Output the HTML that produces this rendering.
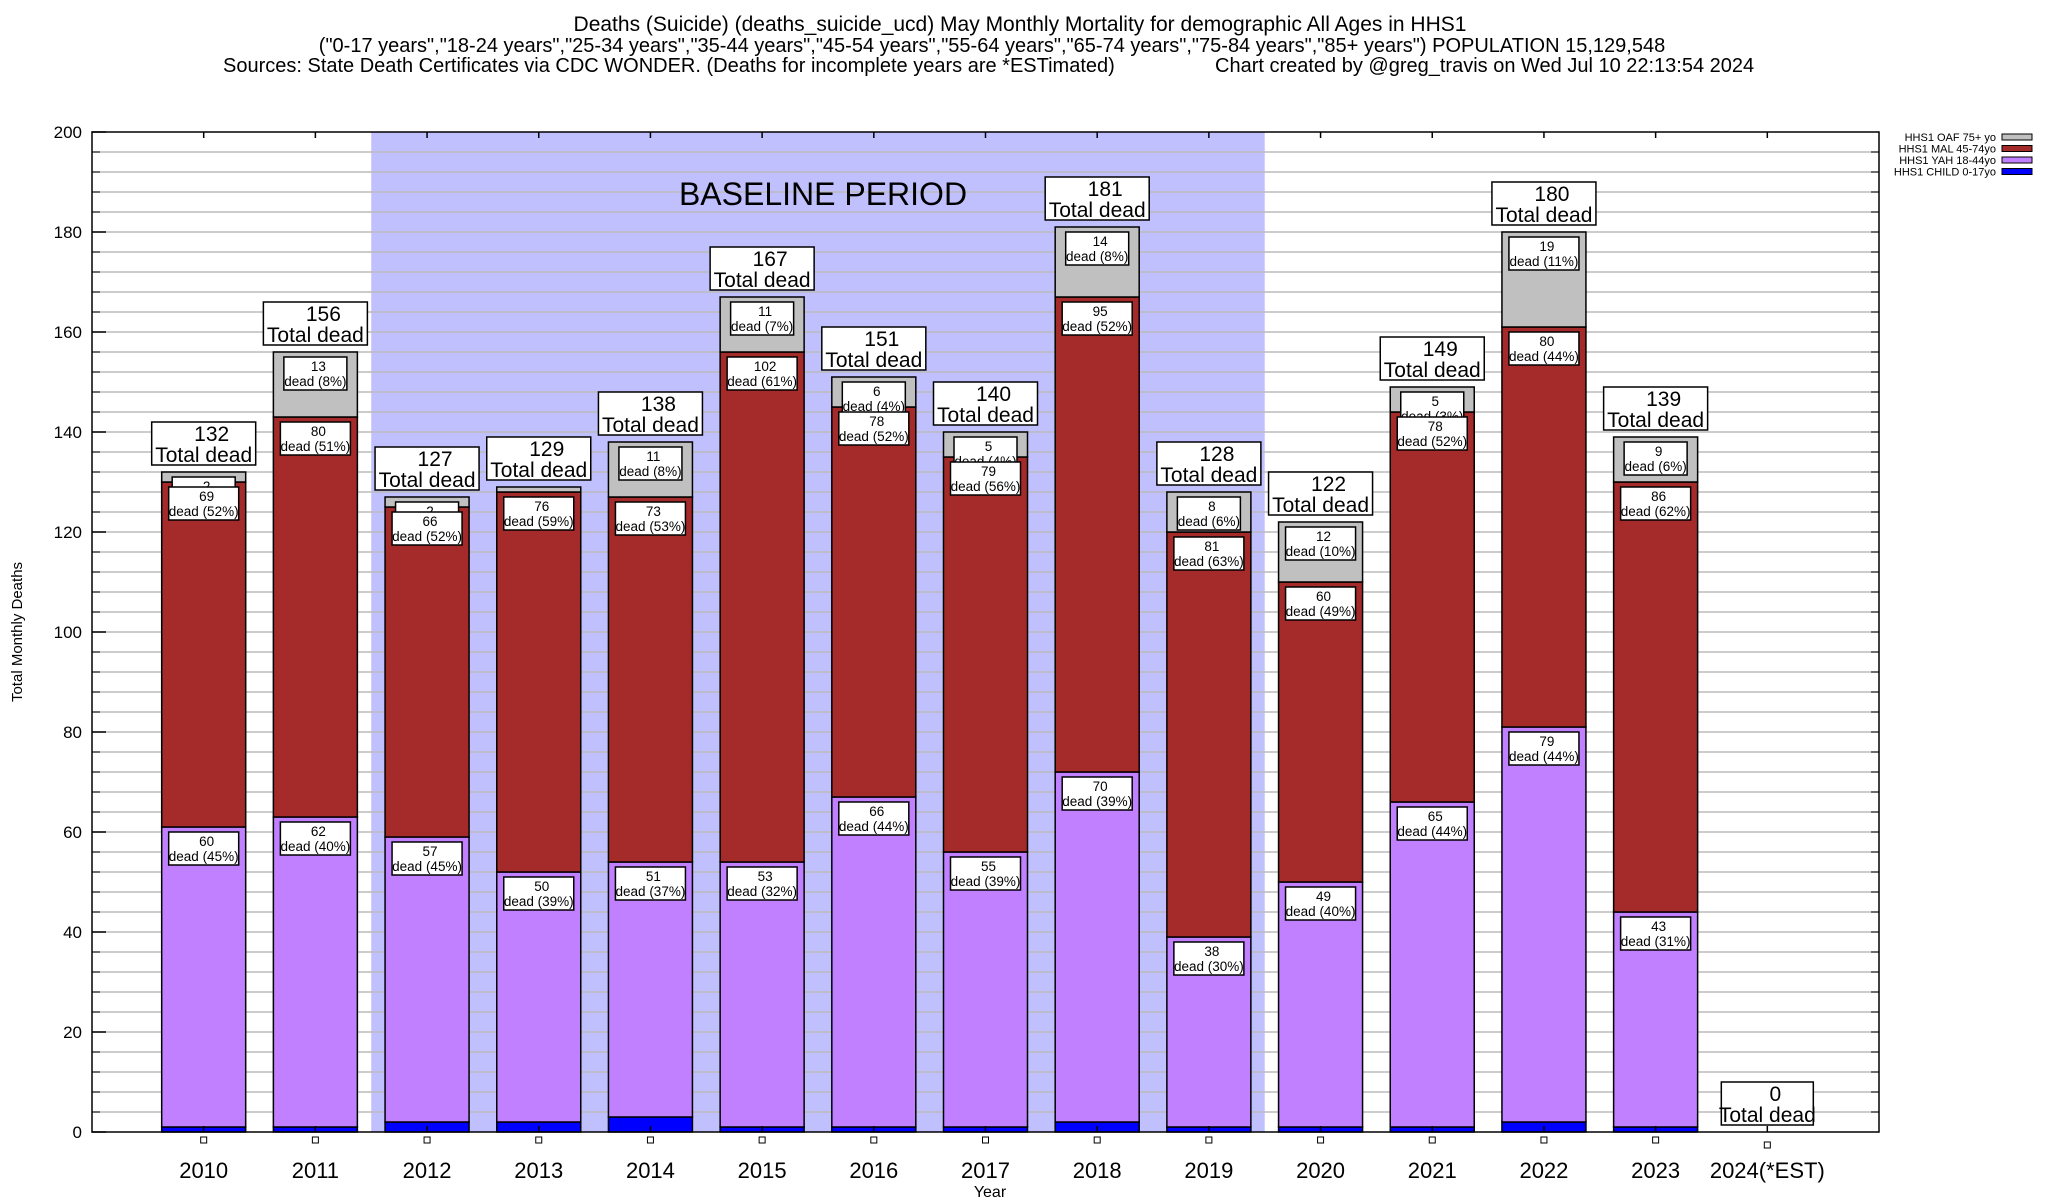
<!DOCTYPE html>
<html><head><meta charset="utf-8"><style>
body{margin:0;background:#fff;}
svg{display:block;font-family:"Liberation Sans",Arial,sans-serif;}
</style></head><body>
<svg id="c" width="2048" height="1200" viewBox="0 0 2048 1200"></svg>
<script>
const years=["2010","2011","2012","2013","2014","2015","2016","2017","2018","2019","2020","2021","2022","2023","2024(*EST)"];
const child=[1,1,2,2,3,1,1,1,2,1,1,1,2,1,0];
const yah=[60,62,57,50,51,53,66,55,70,38,49,65,79,43,0];
const mal=[69,80,66,76,73,102,78,79,95,81,60,78,80,86,0];
const oaf=[2,13,2,1,11,11,6,5,14,8,12,5,19,9,0];
const yTicks=[0,20,40,60,80,100,120,140,160,180,200];
const seriesNames=["HHS1 OAF 75+ yo","HHS1 MAL 45-74yo","HHS1 YAH 18-44yo","HHS1 CHILD 0-17yo"];
const colors=["#c0c0c0","#a52a2a","#c080ff","#0000ff"];

const NS="http://www.w3.org/2000/svg";
const svg=document.getElementById('c');
const L=92,R=1879,T=132,B=1132;
const step=(R-L)/16;
const X=i=>L+step*(i+1);
const Y=v=>B-(v/200)*(B-T);
const BW=84;
function el(tag,attrs,parent){const e=document.createElementNS(NS,tag);for(const k in attrs)e.setAttribute(k,attrs[k]);(parent||svg).appendChild(e);return e;}
function txt(s,attrs,parent){const e=el('text',attrs,parent);e.textContent=s;return e;}

const tg=el('g',{});


txt("Deaths (Suicide) (deaths_suicide_ucd) May Monthly Mortality for demographic All Ages in HHS1",{x:1020,y:31,'font-size':21,'text-anchor':'middle'},tg);
txt('("0-17 years","18-24 years","25-34 years","35-44 years","45-54 years","55-64 years","65-74 years","75-84 years","85+ years") POPULATION 15,129,548',{x:992,y:52,'font-size':20,'text-anchor':'middle'},tg);
txt("Sources: State Death Certificates via CDC WONDER. (Deaths for incomplete years are *ESTimated)",{x:223,y:72,'font-size':20},tg);
txt("Chart created by @greg_travis on Wed Jul 10 22:13:54 2024",{x:1215,y:72,'font-size':20},tg);

const sh=el('rect',{x:(X(1)+X(2))/2,y:T,width:(X(9)+X(10))/2-(X(1)+X(2))/2,height:B-T,fill:'#c0c0ff'});


for(let v=4;v<200;v+=4){
  const g=el('line',{x1:L,x2:R,y1:Y(v),y2:Y(v),stroke:'#bbbbbb','stroke-width':1.5});
  
  
  el('line',{x1:L,x2:L+8,y1:Y(v),y2:Y(v),stroke:'#000','stroke-width':1});
  el('line',{x1:R,x2:R-8,y1:Y(v),y2:Y(v),stroke:'#000','stroke-width':1});
}
const bt=txt("BASELINE PERIOD",{x:823,y:205,'font-size':32,'text-anchor':'middle'});



yTicks.forEach(v=>{
  const t=txt(String(v),{x:82,y:Y(v)+6,'font-size':17,'text-anchor':'end'});
  
  
  el('line',{x1:L,x2:L+14,y1:Y(v),y2:Y(v),stroke:'#000','stroke-width':1.5});
});
const yt=txt("Total Monthly Deaths",{x:22,y:632,'font-size':15,'text-anchor':'middle',transform:'rotate(-90 22 632)'});



function segLabel(cx,top,v,tot,g){
  const pct=Math.round(v/tot*100);
  const w=(pct>=10?70:63),h=33;
  el('rect',{x:cx-w/2,y:top+5,width:w,height:h,fill:'#fff',stroke:'#000','stroke-width':1.5},g);
  txt(String(v),{x:cx+3,y:top+19,'font-size':13.5,'text-anchor':'middle'},g);
  txt("dead ("+pct+"%)",{x:cx,y:top+34,'font-size':13.5,'text-anchor':'middle'},g);
}

years.forEach((yr,i)=>{
  const cx=X(i);
  const g=el('g',{});
  
  
  const vals=[child[i],yah[i],mal[i],oaf[i]];
  const cols=[colors[3],colors[2],colors[1],colors[0]];
  const tot=vals.reduce((a,b)=>a+b,0);
  let base=0;
  const tops=[];
  vals.forEach((v,k)=>{
    if(v>0){
      const r=el('rect',{x:cx-BW/2,y:Y(base+v),width:BW,height:Y(base)-Y(base+v),fill:cols[k],stroke:'#000','stroke-width':1.5},g);
      
      
    }
    tops.push(Y(base+v));
    base+=v;
  });
  if(tot>0){
    if(oaf[i]>=2) segLabel(cx,tops[3],oaf[i],tot,g);
    segLabel(cx,tops[2],mal[i],tot,g);
    segLabel(cx,tops[1],yah[i],tot,g);
  }
  const tb=Y(tot)-7;
  const bw=(tot>=100?104:(tot>=10?96:92));
  const tgp=el('g',{},g);
  
  
  el('rect',{x:cx-bw/2,y:tb-43,width:bw,height:43,fill:'#fff',stroke:'#000','stroke-width':1.5},tgp);
  txt(String(tot),{x:cx+8,y:tb-24,'font-size':21,'text-anchor':'middle'},tgp);
  txt("Total dead",{x:cx,y:tb-3,'font-size':21,'text-anchor':'middle'},tgp);
  el('rect',{x:cx-3,y:tot>0?1137:1142,width:6,height:6,fill:'#fff',stroke:'#000','stroke-width':1});
  el('line',{x1:cx,x2:cx,y1:T,y2:T+6,stroke:'#000','stroke-width':1.5});
  el('line',{x1:cx,x2:cx,y1:B,y2:B-6,stroke:'#000','stroke-width':1.5});
  const xl=txt(yr,{x:cx,y:1178,'font-size':22,'text-anchor':'middle'});
  
  
});
const xt=txt("Year",{x:990,y:1197,'font-size':16,'text-anchor':'middle'});



const fr=el('rect',{x:L,y:T,width:R-L,height:B-T,fill:'none',stroke:'#000','stroke-width':1.5});



seriesNames.forEach((n,k)=>{
  const g=el('g',{});
  
  
  const y=137+k*11.5;
  txt(n,{x:1996,y:y+4,'font-size':11,'text-anchor':'end'},g);
  el('rect',{x:2002,y:y-3,width:30,height:6,fill:colors[k],stroke:'#000','stroke-width':1},g);
});
</script>
</body></html>
